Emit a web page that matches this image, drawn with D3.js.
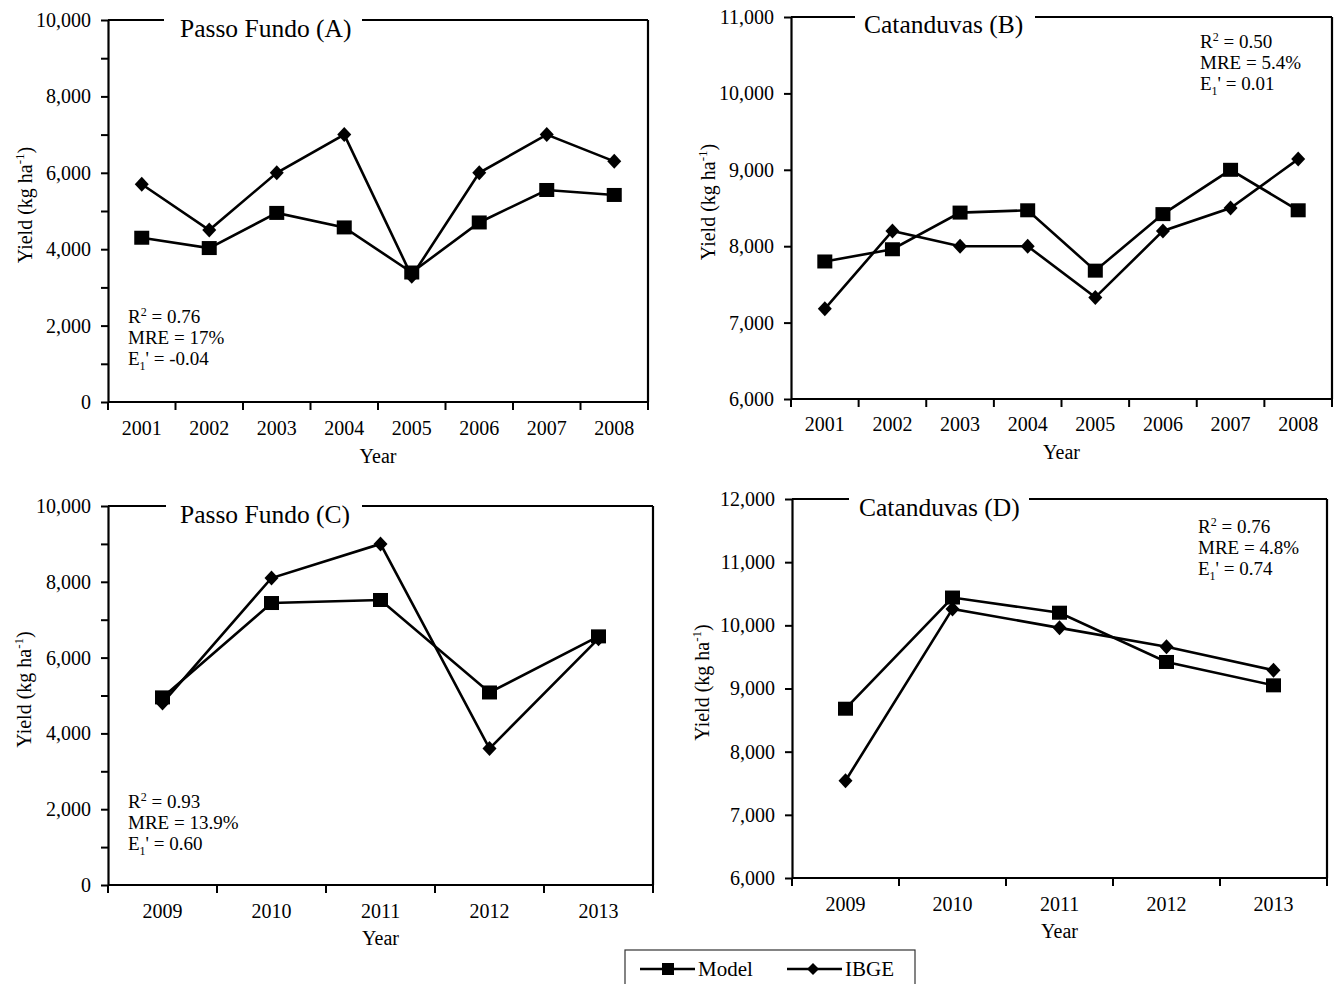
<!DOCTYPE html>
<html>
<head>
<meta charset="utf-8">
<script src="https://cdn.jsdelivr.net/npm/d3@7"></script>
<style>
  body { margin: 0; background: #fff; }
  svg text { font-family: "Liberation Serif", "Times New Roman", serif; fill: #000; }
</style>
</head>
<body>
<div id="chart-container"></div>
<script>
// years on the x axis
const yearsAB = ['2001', '2002', '2003', '2004', '2005', '2006', '2007', '2008'];
const yearsCD = ['2009', '2010', '2011', '2012', '2013'];

// yield series (kg ha-1)
const modelA = [4300, 4030, 4950, 4570, 3390, 4700, 5550, 5420];
const ibgeA  = [5700, 4500, 6000, 7000, 3290, 6000, 7000, 6300];
const modelB = [7800, 7960, 8440, 8470, 7680, 8420, 9000, 8470];
const ibgeB  = [7180, 8200, 8000, 8000, 7330, 8200, 8500, 9140];
const modelC = [4950, 7440, 7520, 5080, 6560];
const ibgeC  = [4800, 8100, 9000, 3600, 6500];
const modelD = [8680, 10440, 10200, 9420, 9050];
const ibgeD  = [7540, 10260, 9960, 9660, 9290];

// y ticks
const ticksPF = [0, 2000, 4000, 6000, 8000, 10000];
const minorPF = [1000, 3000, 5000, 7000, 9000];
const ticksB = [6000, 7000, 8000, 9000, 10000, 11000];
const ticksD = [6000, 7000, 8000, 9000, 10000, 11000, 12000];

// panel titles and statistics
const titles = ['Passo Fundo (A)', 'Catanduvas (B)', 'Passo Fundo (C)', 'Catanduvas (D)'];
const statsA = ['0.76', '17%', '-0.04'];
const statsB = ['0.50', '5.4%', '0.01'];
const statsC = ['0.93', '13.9%', '0.60'];
const statsD = ['0.76', '4.8%', '0.74'];

const width = 1335, height = 984;

const svg = d3.select('#chart-container')
  .append('svg')
  .attr('width', width)
  .attr('height', height);

const panels = [
  { title: titles[0], years: yearsAB, model: modelA, ibge: ibgeA, stats: statsA,
    domain: [0, 10000], ticks: ticksPF, minor: minorPF,
    left: 108, right: 648, top: 20, bottom: 402, gap: [164, 362],
    titleX: 180, titleY: 37, statX: 128, statY: 323,
    yLabX: 32, tickY: 435, yearY: 463 },
  { title: titles[1], years: yearsAB, model: modelB, ibge: ibgeB, stats: statsB,
    domain: [6000, 11000], ticks: ticksB, minor: [],
    left: 791, right: 1332, top: 17, bottom: 399, gap: [855, 1035],
    titleX: 864, titleY: 33, statX: 1200, statY: 48,
    yLabX: 715, tickY: 431, yearY: 459 },
  { title: titles[2], years: yearsCD, model: modelC, ibge: ibgeC, stats: statsC,
    domain: [0, 10000], ticks: ticksPF, minor: minorPF,
    left: 108, right: 653, top: 506, bottom: 885, gap: [166, 362],
    titleX: 180, titleY: 523, statX: 128, statY: 808,
    yLabX: 31, tickY: 918, yearY: 945 },
  { title: titles[3], years: yearsCD, model: modelD, ibge: ibgeD, stats: statsD,
    domain: [6000, 12000], ticks: ticksD, minor: [],
    left: 792, right: 1327, top: 499, bottom: 878, gap: [849, 1029],
    titleX: 859, titleY: 516, statX: 1198, statY: 533,
    yLabX: 709, tickY: 911, yearY: 938 }
];

const diamond = 'M0,-7.5L7,0L0,7.5L-7,0Z';

panels.forEach(drawPanel);

function drawPanel(p) {
  const x = d3.scaleBand().domain(p.years).range([p.left, p.right]);
  const y = d3.scaleLinear().domain(p.domain).range([p.bottom, p.top]);
  const cx = d => x(d) + x.bandwidth() / 2;
  const g = svg.append('g');

  // y axis
  const yAxis = g.append('g')
    .attr('transform', `translate(${p.left},0)`)
    .call(d3.axisLeft(y).tickValues(p.ticks).tickFormat(d3.format(','))
      .tickSize(7).tickSizeOuter(0).tickPadding(10));
  yAxis.selectAll('text').style('font-size', '20px').style('font-family', '"Liberation Serif", serif');
  yAxis.select('.domain').attr('stroke', '#000').attr('stroke-width', 2.2);
  yAxis.selectAll('.tick line').attr('stroke', '#000').attr('stroke-width', 2);

  if (p.minor.length) {
    const minorAxis = g.append('g')
      .attr('transform', `translate(${p.left},0)`)
      .call(d3.axisLeft(y).tickValues(p.minor).tickFormat('').tickSize(7).tickSizeOuter(0));
    minorAxis.select('.domain').remove();
    minorAxis.selectAll('.tick line').attr('stroke', '#000').attr('stroke-width', 2);
  }

  // x axis labels
  const xAxis = g.append('g')
    .attr('transform', `translate(0,${p.bottom})`)
    .call(d3.axisBottom(x).tickSize(0));
  xAxis.select('.domain').remove();
  xAxis.selectAll('text')
    .attr('y', p.tickY - p.bottom).attr('dy', null)
    .style('font-size', '20px').style('font-family', '"Liberation Serif", serif');

  // bottom line and boundary ticks
  g.append('line')
    .attr('x1', p.left).attr('x2', p.right)
    .attr('y1', p.bottom).attr('y2', p.bottom)
    .attr('stroke', '#000').attr('stroke-width', 2.2);
  const bounds = p.years.map(d => x(d)).concat([p.right]);
  g.selectAll('.xtick').data(bounds).enter().append('line')
    .attr('x1', d => d).attr('x2', d => d)
    .attr('y1', p.bottom).attr('y2', p.bottom + 8)
    .attr('stroke', '#000').attr('stroke-width', 2);

  // right and top border, top one broken by title
  g.append('line')
    .attr('x1', p.right).attr('x2', p.right)
    .attr('y1', p.top).attr('y2', p.bottom)
    .attr('stroke', '#000').attr('stroke-width', 2.2);
  g.append('line')
    .attr('x1', p.left).attr('x2', p.gap[0])
    .attr('y1', p.top).attr('y2', p.top)
    .attr('stroke', '#000').attr('stroke-width', 2.2);
  g.append('line')
    .attr('x1', p.gap[1]).attr('x2', p.right)
    .attr('y1', p.top).attr('y2', p.top)
    .attr('stroke', '#000').attr('stroke-width', 2.2);

  g.append('text')
    .attr('x', p.titleX).attr('y', p.titleY)
    .style('font-size', '25.5px')
    .text(p.title);

  // series lines
  const line = d3.line().x((d, i) => cx(p.years[i])).y(d => y(d));
  [p.ibge, p.model].forEach(s => {
    g.append('path')
      .datum(s)
      .attr('d', line)
      .attr('fill', 'none')
      .attr('stroke', '#000')
      .attr('stroke-width', 2.6);
  });

  g.selectAll('.ibge').data(p.ibge).enter().append('path')
    .attr('d', diamond)
    .attr('transform', (d, i) => `translate(${cx(p.years[i])},${y(d)})`)
    .attr('fill', '#000');

  g.selectAll('.model').data(p.model).enter().append('rect')
    .attr('x', (d, i) => cx(p.years[i]) - 7.5)
    .attr('y', d => y(d) - 7)
    .attr('width', 15).attr('height', 14)
    .attr('fill', '#000');

  // statistics
  const st = g.append('g').style('font-size', '19px');
  const t1 = st.append('text').attr('x', p.statX).attr('y', p.statY);
  t1.append('tspan').text('R');
  t1.append('tspan').attr('dy', -7).style('font-size', '12px').text('2');
  t1.append('tspan').attr('dy', 7).text(' = ' + p.stats[0]);
  st.append('text').attr('x', p.statX).attr('y', p.statY + 21).text('MRE = ' + p.stats[1]);
  const t3 = st.append('text').attr('x', p.statX).attr('y', p.statY + 42);
  t3.append('tspan').text('E');
  t3.append('tspan').attr('dy', 5).style('font-size', '12px').text('1');
  t3.append('tspan').attr('dy', -5).text("' = " + p.stats[2]);

  // axis titles
  const yl = g.append('text')
    .attr('transform', `translate(${p.yLabX},${(p.top + p.bottom) / 2 - 6}) rotate(-90)`)
    .attr('text-anchor', 'middle')
    .style('font-size', '20px');
  yl.append('tspan').text('Yield (kg ha');
  yl.append('tspan').attr('dy', -8).style('font-size', '13px').text('-1');
  yl.append('tspan').attr('dy', 8).text(')');

  g.append('text')
    .attr('x', (p.left + p.right) / 2).attr('y', p.yearY)
    .attr('text-anchor', 'middle')
    .style('font-size', '20px')
    .text('Year');
}

// legend
const legend = svg.append('g');
legend.append('rect')
  .attr('x', 625).attr('y', 950).attr('width', 290).attr('height', 60)
  .attr('fill', 'none').attr('stroke', '#333').attr('stroke-width', 1.2);
const legendItems = ['Model', 'IBGE'];
legendItems.forEach((name, i) => {
  const x0 = 640 + i * 147;
  legend.append('line')
    .attr('x1', x0).attr('x2', x0 + 55).attr('y1', 969).attr('y2', 969)
    .attr('stroke', '#000').attr('stroke-width', 2.4);
  if (i === 0) {
    legend.append('rect').attr('x', x0 + 22).attr('y', 963).attr('width', 12).attr('height', 12).attr('fill', '#000');
  } else {
    legend.append('path').attr('d', 'M0,-6L6,0L0,6L-6,0Z')
      .attr('transform', `translate(${x0 + 26},969)`).attr('fill', '#000');
  }
  legend.append('text')
    .attr('x', x0 + 58).attr('y', 976)
    .style('font-size', '21px')
    .text(name);
});
</script>
</body>
</html>
